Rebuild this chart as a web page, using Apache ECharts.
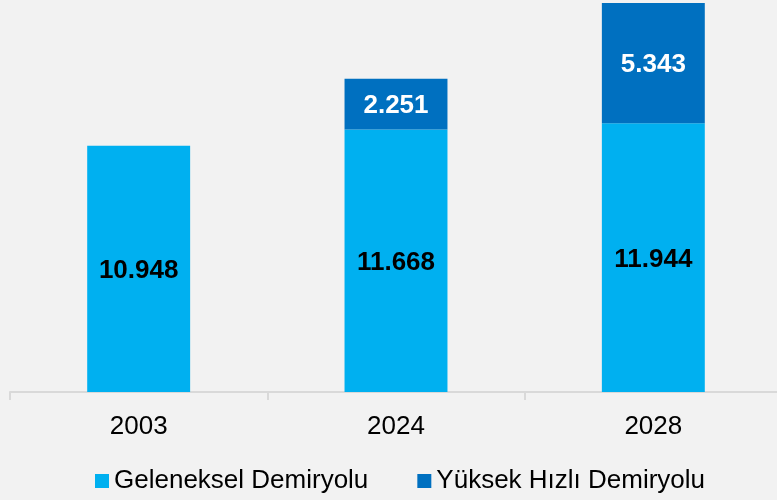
<!DOCTYPE html>
<html>
<head>
<meta charset="utf-8">
<script src="https://cdn.jsdelivr.net/npm/echarts@6/dist/echarts.min.js"></script>
<style>
  html, body { margin: 0; padding: 0; background: #f2f2f2; overflow: hidden; }
</style>
</head>
<body>
<!-- the axis runs a few px past the right edge in the original -->
<div id="chart" style="width: 782px; height: 500px"></div>
<script>
const years = ["2003", "2024", "2028"];
const geleneksel = [10.948, 11.668, 11.944];
const yuksekHizli = [null, 2.251, 5.343];

const fmt = (p) => p.value == null ? "" : p.value.toFixed(3);

let chart = echarts.init(document.getElementById("chart"));
let option = {
  backgroundColor: "#f2f2f2",
  animation: false,
  textStyle: { fontFamily: "Liberation Sans, Arial, sans-serif" },
  grid: { left: 10, right: 0, top: 3, bottom: 108 },
  legend: {
    top: 463,
    left: 90,
    itemWidth: 14,
    itemHeight: 14,
    itemGap: 49,
    icon: "rect",
    textStyle: { fontSize: 26, color: "#000" },
    data: ["Geleneksel Demiryolu", "Yüksek Hızlı Demiryolu"]
  },
  xAxis: {
    type: "category",
    data: years,
    axisLine: { lineStyle: { color: "#d9d9d9", width: 2 } },
    axisTick: { show: true, length: 8, lineStyle: { color: "#d9d9d9", width: 2 } },
    axisLabel: { fontSize: 26, color: "#000", margin: 22 }
  },
  yAxis: {
    type: "value",
    min: 0,
    max: 17.287,
    show: false,
    splitLine: { show: false }
  },
  series: [
    {
      name: "Geleneksel Demiryolu",
      type: "bar",
      stack: "total",
      barWidth: "40%",
      itemStyle: { color: "#00b0f0" },
      label: {
        show: true,
        position: "inside",
        offset: [0, 2],
        formatter: fmt,
        fontSize: 26,
        fontWeight: "bold",
        color: "#000"
      },
      data: geleneksel
    },
    {
      name: "Yüksek Hızlı Demiryolu",
      type: "bar",
      stack: "total",
      barWidth: "40%",
      itemStyle: { color: "#0070c0" },
      label: {
        show: true,
        position: "inside",
        offset: [0, 2],
        formatter: fmt,
        fontSize: 26,
        fontWeight: "bold",
        color: "#fff"
      },
      data: yuksekHizli
    }
  ]
};
chart.setOption(option);
</script>
</body>
</html>
